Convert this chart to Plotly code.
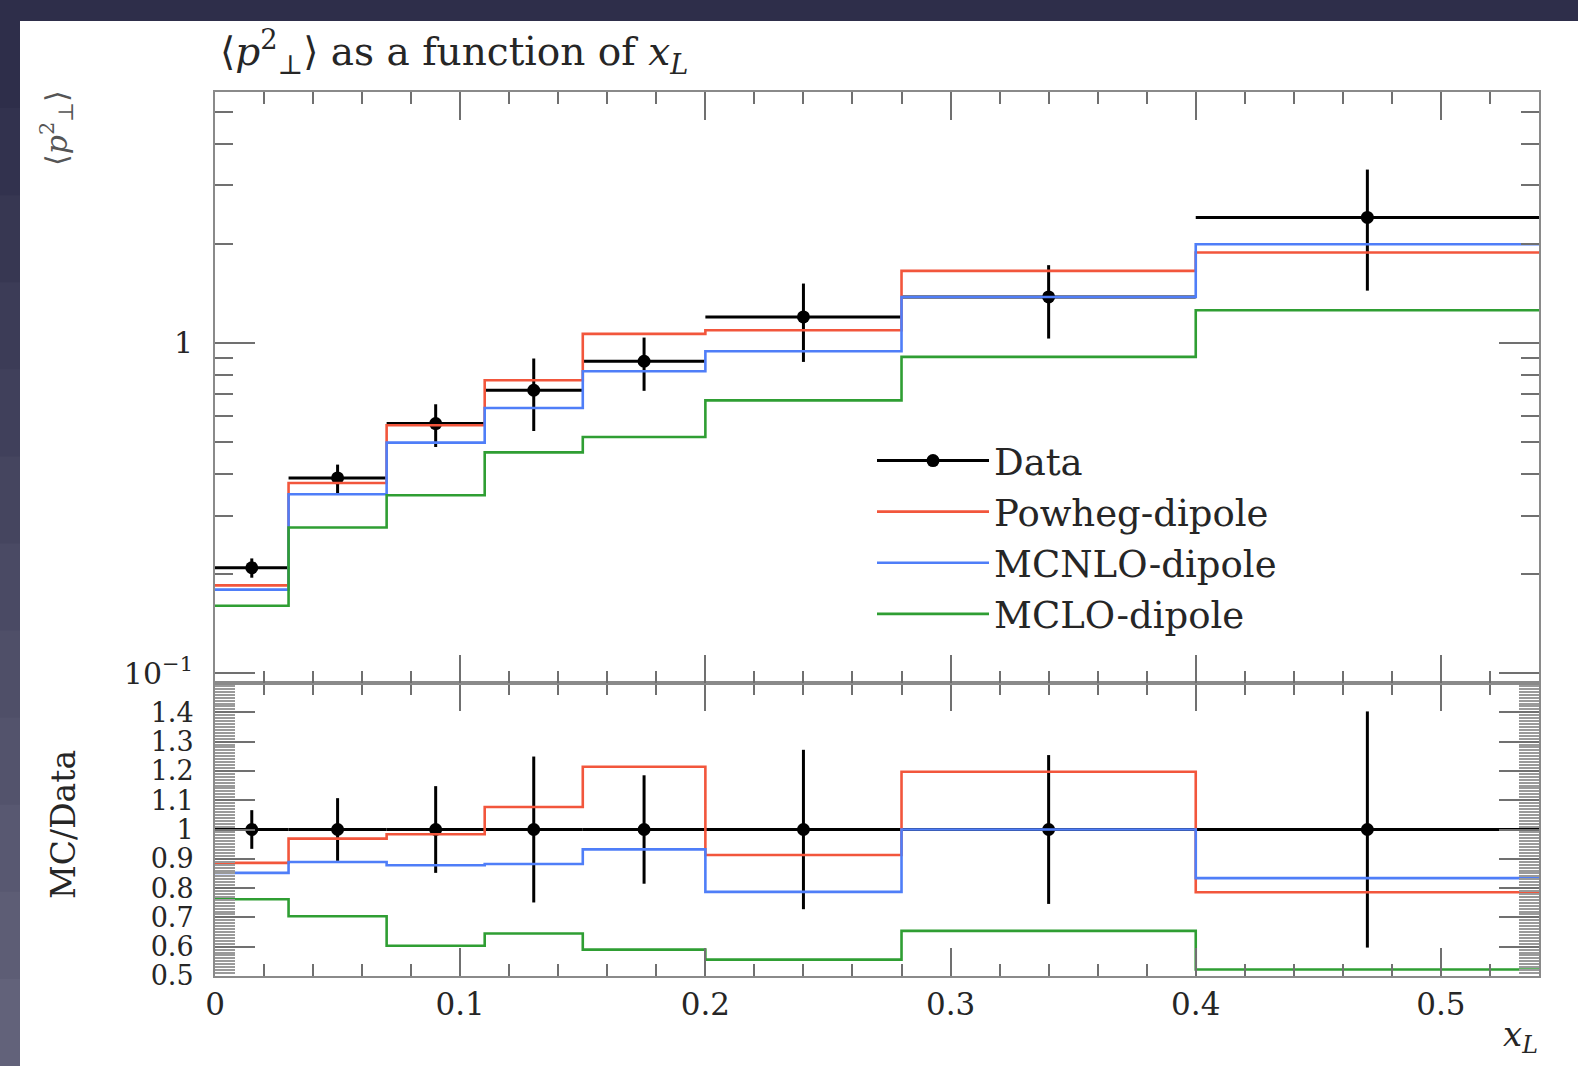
import plotly.graph_objects as go

# ---------------- data ----------------
bin_edges = [0.0, 0.03, 0.07, 0.11, 0.15, 0.20, 0.28, 0.40, 0.54]
bin_centers = [0.015, 0.05, 0.09, 0.13, 0.175, 0.24, 0.34, 0.47]

data_vals = [0.2085, 0.390, 0.570, 0.719, 0.880, 1.199, 1.378, 2.40]
data_err_up = [0.014, 0.038, 0.082, 0.178, 0.158, 0.314, 0.342, 0.95]
data_err_dn = [0.014, 0.040, 0.086, 0.178, 0.164, 0.323, 0.347, 0.96]

powheg_vals = [0.1844, 0.3765, 0.563, 0.771, 1.065, 1.093, 1.653, 1.878]
mcnlo_vals = [0.179, 0.348, 0.499, 0.635, 0.821, 0.944, 1.378, 1.991]
mclo_vals = [0.160, 0.276, 0.3455, 0.466, 0.519, 0.670, 0.907, 1.256]

ratio_data = [1.0, 1.0, 1.0, 1.0, 1.0, 1.0, 1.0, 1.0]
ratio_err = [0.066, 0.107, 0.148, 0.249, 0.185, 0.272, 0.254, 0.403]
powheg_ratio = [0.886, 0.969, 0.984, 1.077, 1.214, 0.913, 1.197, 0.786]
mcnlo_ratio = [0.852, 0.889, 0.878, 0.882, 0.932, 0.787, 1.000, 0.834]
mclo_ratio = [0.762, 0.704, 0.603, 0.645, 0.590, 0.556, 0.654, 0.522]

series_names = ["Powheg-dipole", "MCNLO-dipole", "MCLO-dipole"]
series_colors = ["#f2563c", "#4f7ef8", "#2f9e33"]

x_tickvals = [0, 0.1, 0.2, 0.3, 0.4, 0.5]
x_ticktext = ["0", "0.1", "0.2", "0.3", "0.4", "0.5"]
ratio_tickvals = [0.5, 0.6, 0.7, 0.8, 0.9, 1.0, 1.1, 1.2, 1.3, 1.4]
ratio_ticktext = ["0.5", "0.6", "0.7", "0.8", "0.9", "1", "1.1", "1.2", "1.3", "1.4"]
main_tickvals = [0.1, 1]
main_ticktext = ["10<sup>\u22121</sup>", "1"]

# ---------------- figure ----------------
FONT = "DejaVu Serif"
TXT = "#262626"
AX = "#8a8a8a"
TK = "#707070"

xerr_plus = [bin_edges[i + 1] - c for i, c in enumerate(bin_centers)]
xerr_minus = [c - bin_edges[i] for i, c in enumerate(bin_centers)]

fig = go.Figure()

# legend-only entry for Data (line + marker)
fig.add_trace(go.Scatter(x=[None], y=[None], mode="lines+markers", name="Data",
                         line=dict(color="black", width=3),
                         marker=dict(color="black", size=13),
                         xaxis="x2", yaxis="y2", showlegend=True))

# upper panel: data
fig.add_trace(go.Scatter(
    x=bin_centers, y=data_vals, mode="markers", name="Data", showlegend=False,
    marker=dict(color="black", size=13),
    error_x=dict(type="data", symmetric=False, array=xerr_plus, arrayminus=xerr_minus,
                 color="black", thickness=3, width=0),
    error_y=dict(type="data", symmetric=False, array=data_err_up, arrayminus=data_err_dn,
                 color="black", thickness=3, width=0),
    xaxis="x2", yaxis="y2"))

for name, vals, col in zip(series_names, [powheg_vals, mcnlo_vals, mclo_vals], series_colors):
    fig.add_trace(go.Scatter(
        x=bin_edges, y=vals + [vals[-1]], mode="lines", name=name,
        line=dict(color=col, width=2.6, shape="hv"),
        xaxis="x2", yaxis="y2", showlegend=True))

# lower panel: ratio
fig.add_trace(go.Scatter(
    x=bin_centers, y=ratio_data, mode="markers", showlegend=False,
    marker=dict(color="black", size=13),
    error_x=dict(type="data", symmetric=False, array=xerr_plus, arrayminus=xerr_minus,
                 color="black", thickness=3, width=0),
    error_y=dict(type="data", array=ratio_err, color="black", thickness=3, width=0),
    xaxis="x", yaxis="y"))

for name, vals, col in zip(series_names, [powheg_ratio, mcnlo_ratio, mclo_ratio], series_colors):
    fig.add_trace(go.Scatter(
        x=bin_edges, y=vals + [vals[-1]], mode="lines", name=name,
        line=dict(color=col, width=2.6, shape="hv"),
        xaxis="x", yaxis="y", showlegend=False))

W, H = 1578, 1066
ML, MR, MT, MB = 215, 39, 92, 90
PW, PH = W - ML - MR, H - MT - MB
split = 293 / PH


def px_x(p):
    return (p - ML) / PW


def px_y(p):
    return (H - MB - p) / PH


common_x = dict(range=[0, 0.54], showgrid=False, zeroline=False, showline=True,
                linecolor=AX, linewidth=2, mirror="allticks",
                ticks="inside", ticklen=28, tickwidth=2, tickcolor=TK,
                tickvals=x_tickvals, ticktext=x_ticktext,
                minor=dict(ticks="inside", ticklen=12, tickwidth=2, tickcolor=TK,
                           dtick=0.02, tick0=0, showgrid=False))

shapes = [dict(type="rect", xref="paper", yref="paper", layer="below",
               x0=px_x(20), x1=px_x(W + 5), y0=px_y(21), y1=px_y(H + 5),
               fillcolor="white", line=dict(width=0))]
# subtle vertical gradient on the left dark strip (decoration)
nseg = 12
for i in range(nseg):
    t = i / (nseg - 1)
    r = int(0x2e + t * (0x62 - 0x2e))
    g = int(0x2e + t * (0x62 - 0x2e))
    b = int(0x4a + t * (0x7a - 0x4a))
    y0p = 21 + i * (H - 21) / nseg
    y1p = 21 + (i + 1) * (H - 21) / nseg
    shapes.append(dict(type="rect", xref="paper", yref="paper", layer="below",
                       x0=px_x(-5), x1=px_x(20), y0=px_y(y0p), y1=px_y(y1p + 1),
                       fillcolor=f"rgb({r},{g},{b})", line=dict(width=0)))

fig.update_layout(
    width=W, height=H,
    margin=dict(l=ML, r=MR, t=MT, b=MB),
    paper_bgcolor="#2e2e4a", plot_bgcolor="white",
    font=dict(family=FONT, color=TXT, size=28),
    xaxis=dict(**common_x, anchor="y", tickfont=dict(family=FONT, size=31, color=TXT),
               ticklabelstandoff=0),
    xaxis2=dict(**common_x, anchor="y2", matches="x", showticklabels=False),
    yaxis=dict(domain=[0, split], range=[0.5, 1.5], showgrid=False, zeroline=False,
               showline=True, linecolor=AX, linewidth=2, mirror="allticks",
               ticks="inside", ticklen=40, tickwidth=2, tickcolor=TK,
               tickvals=ratio_tickvals, ticktext=ratio_ticktext,
               tickfont=dict(family=FONT, size=27, color=TXT), ticklabelstandoff=14,
               minor=dict(ticks="inside", ticklen=20, tickwidth=1.5, tickcolor="#9a9a9a",
                          dtick=0.01, tick0=0.5, showgrid=False)),
    yaxis2=dict(domain=[split, 1], type="log", range=[-1.03, 0.76], showgrid=False,
                zeroline=False, showline=True, linecolor=AX, linewidth=2, mirror="allticks",
                ticks="inside", ticklen=40, tickwidth=2, tickcolor=TK,
                tickvals=main_tickvals, ticktext=main_ticktext,
                tickfont=dict(family=FONT, size=30, color=TXT), ticklabelstandoff=14,
                minor=dict(ticks="inside", ticklen=18, tickwidth=2, tickcolor=TK,
                           dtick="D1", showgrid=False)),
    legend=dict(x=px_x(872), y=px_y(430), xanchor="left", yanchor="top",
                bgcolor="rgba(0,0,0,0)", font=dict(family=FONT, size=37, color=TXT),
                itemwidth=112, tracegroupgap=0, traceorder="normal"),
    shapes=shapes,
    annotations=[
        dict(text="\u27e8<i>p</i><sup>2</sup><sub>\u22a5</sub>\u27e9 as a function of <i>x<sub>L</sub></i>",
             xref="paper", yref="paper", x=px_x(218), y=px_y(52), xanchor="left",
             yanchor="middle", showarrow=False, font=dict(family=FONT, size=39, color=TXT)),
        dict(text="\u27e8<i>p</i><sup>2</sup><sub>\u22a5</sub>\u27e9", textangle=-90,
             xref="paper", yref="paper", x=px_x(57), y=px_y(128), xanchor="center",
             yanchor="middle", showarrow=False, font=dict(family=FONT, size=30, color="#555")),
        dict(text="MC/Data", textangle=-90,
             xref="paper", yref="paper", x=px_x(63), y=px_y(825), xanchor="center",
             yanchor="middle", showarrow=False, font=dict(family=FONT, size=33, color=TXT)),
        dict(text="<i>x<sub>L</sub></i>",
             xref="paper", yref="paper", x=px_x(1540), y=px_y(1036), xanchor="right",
             yanchor="middle", showarrow=False, font=dict(family=FONT, size=34, color=TXT)),
    ],
)

fig.write_html("out.html")
